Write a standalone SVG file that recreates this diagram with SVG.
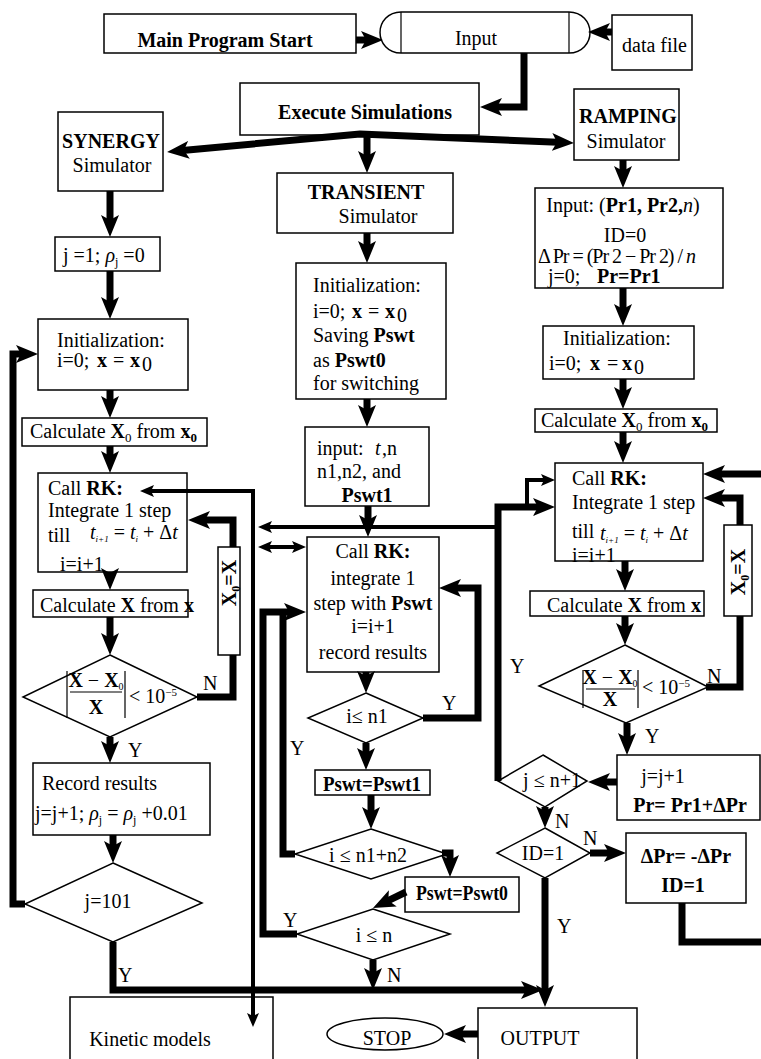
<svg xmlns="http://www.w3.org/2000/svg" width="761" height="1059" viewBox="0 0 761 1059">
<defs>
<style>
text{font-family:"Liberation Serif","Times New Roman",serif;font-size:20px;fill:#000}
.bd{font-weight:bold}
.it{font-style:italic}
.c{text-anchor:middle}
.b{fill:#fff;stroke:#000;stroke-width:1.5}
.k{fill:none;stroke:#000;stroke-width:7;stroke-linejoin:miter}
.m{fill:none;stroke:#000;stroke-width:4}
.f{stroke:#000;stroke-width:1.2;fill:none}
</style>
<marker id="a" viewBox="0 0 22 18" refX="12" refY="9" markerWidth="22" markerHeight="18" markerUnits="userSpaceOnUse" orient="auto-start-reverse"><path d="M0,0 L22,9 L0,18 L5,9 Z"/></marker>
<marker id="s" viewBox="0 0 14 12" refX="7" refY="6" markerWidth="14" markerHeight="12" markerUnits="userSpaceOnUse" orient="auto-start-reverse"><path d="M0,0 L14,6 L0,12 L3,6 Z"/></marker>
</defs>
<rect width="761" height="1059" fill="#fff"/>

<g id="main-start"><rect class="b" x="104" y="14" width="252" height="39"/><text class="c bd" x="225" y="47">Main Program Start</text></g>
<g id="input"><path class="b" d="M401,12 H569 C582,12 590,22 590,32.5 C590,43 582,53 569,53 H401 C388,53 380,43 380,32.5 C380,22 388,12 401,12 Z"/><path class="f" stroke-width="1.5" d="M401,12 V53 M569,12 V53"/><text class="c" x="476" y="45">Input</text></g>
<g id="data-file"><rect class="b" x="612" y="15" width="80" height="55"/><text x="622" y="52">data file</text></g>
<g id="execute"><rect class="b" x="240" y="83" width="239" height="52"/><text class="c bd" x="365" y="119">Execute Simulations</text></g>
<g id="synergy"><rect class="b" x="58" y="112" width="105" height="79"/><text class="c bd" x="111" y="148">SYNERGY</text><text class="c" x="112" y="172">Simulator</text></g>
<g id="transient"><rect class="b" x="277" y="173" width="176" height="60"/><text class="c bd" x="366" y="199">TRANSIENT</text><text class="c" x="378" y="223">Simulator</text></g>
<g id="ramping"><rect class="b" x="574" y="89" width="105" height="71"/><text class="c bd" x="628" y="123">RAMPING</text><text class="c" x="626" y="148">Simulator</text></g>

<!-- SYNERGY column -->
<g id="syn-j"><rect class="b" x="55" y="237" width="105" height="34"/><text x="63" y="262">j =1; <tspan class="it">ρ</tspan><tspan font-size="12" dy="4">j</tspan><tspan dy="-4"> =0</tspan></text></g>
<g id="syn-init"><rect class="b" x="38" y="319" width="150" height="71"/><text x="57" y="347">Initialization:</text><text x="57" y="367">i=0;</text><text class="bd" x="97" y="367">x</text><text x="113" y="367">=</text><text class="bd" x="130" y="367">x</text><text x="142" y="371" font-size="11">0</text></g>
<g id="syn-calc0"><rect class="b" x="22" y="418" width="185" height="28"/><text x="30" y="438">Calculate <tspan class="bd">X</tspan><tspan font-size="13" dy="4">0</tspan><tspan dy="-4"> from </tspan><tspan class="bd">x</tspan><tspan class="bd" font-size="13" dy="4">0</tspan></text></g>
<g id="syn-rk"><rect class="b" x="38" y="473" width="149" height="99"/><text x="48" y="495">Call <tspan class="bd">RK:</tspan></text><text x="48" y="517">Integrate 1 step</text><text x="48" y="542">till</text><text class="it" x="90" y="539" font-size="14">t<tspan font-size="9" dy="3">i+1</tspan><tspan dy="-3" font-style="normal"> = </tspan>t<tspan font-size="9" dy="3">i</tspan><tspan dy="-3" font-style="normal"> + Δ</tspan>t</text><text x="60" y="571">i=i+1</text></g>
<g id="syn-x0x"><rect class="b" x="218" y="547" width="22" height="108"/><text class="bd c" font-size="19" transform="translate(236,583) rotate(-90)">X<tspan font-size="12" dy="4">0</tspan><tspan dy="-4">=X</tspan></text></g>
<g id="syn-calc"><rect class="b" x="33" y="590" width="155" height="27"/><text x="40" y="612" font-size="18.5">Calculate <tspan class="bd">X</tspan> from <tspan class="bd">x</tspan></text></g>
<g id="syn-conv"><polygon class="b" points="110,655 197,697 110,737 23,697"/><path class="f" d="M67,671 V718 M125,671 V718 M70,692 H122"/><text class="c" x="96" y="687" font-size="17"><tspan class="bd">X</tspan> − <tspan class="bd">X</tspan><tspan font-size="10" dy="3">0</tspan></text><text class="c bd" x="96" y="714" font-size="17">X</text><text x="129" y="703" font-size="17">&lt; 10<tspan font-size="11" dy="-7">−5</tspan></text></g>
<g id="syn-record"><rect class="b" x="33" y="763" width="177" height="72"/><text x="42" y="790">Record results</text><text x="35" y="820">j=j+1; <tspan class="it">ρ</tspan><tspan font-size="12" dy="4">j</tspan><tspan dy="-4"> = </tspan><tspan class="it">ρ</tspan><tspan font-size="12" dy="4">j</tspan><tspan dy="-4"> +0.01</tspan></text></g>
<g id="syn-j101"><polygon class="b" points="113,863 202,903 113,942 25,904"/><text class="c" x="108" y="908">j=101</text></g>
<g id="kinetic"><rect class="b" x="70" y="997" width="203" height="80"/><text class="c" x="150" y="1046">Kinetic models</text></g>

<!-- TRANSIENT column -->
<g id="tr-init"><rect class="b" x="296" y="263" width="150" height="136"/><text x="313" y="292">Initialization:</text><text x="313" y="318">i=0;</text><text class="bd" x="352" y="318">x</text><text x="368" y="318">=</text><text class="bd" x="385" y="318">x</text><text x="397" y="322" font-size="11">0</text><text x="313" y="342">Saving <tspan class="bd">Pswt</tspan></text><text x="313" y="367">as <tspan class="bd">Pswt0</tspan></text><text x="313" y="390">for switching</text></g>
<g id="tr-input"><rect class="b" x="305" y="427" width="124" height="79"/><text x="317" y="455">input:<tspan x="375" class="it">t</tspan><tspan x="382">,n</tspan></text><text x="317" y="478">n1,n2, and</text><text class="c bd" x="367" y="502">Pswt1</text></g>
<g id="tr-rk"><rect class="b" x="307" y="537" width="132" height="135"/><text class="c" x="373" y="558">Call <tspan class="bd">RK:</tspan></text><text class="c" x="373" y="585">integrate 1</text><text class="c" x="373" y="610">step with <tspan class="bd">Pswt</tspan></text><text class="c" x="373" y="633">i=i+1</text><text class="c" x="373" y="659">record results</text></g>
<g id="tr-n1"><polygon class="b" points="366,693 423,718 366,743 308,718"/><text class="c" x="367" y="723">i≤ n1</text></g>
<g id="tr-pswt1"><rect class="b" x="315" y="770" width="115" height="25"/><text class="c bd" x="372" y="791" font-size="17" textLength="98" lengthAdjust="spacingAndGlyphs">Pswt=Pswt1</text></g>
<g id="tr-n1n2"><polygon class="b" points="371,829 447,854 371,879 295,854"/><text class="c" x="368" y="862">i ≤ n1+n2</text></g>
<g id="tr-pswt0"><rect class="b" x="405" y="877" width="114" height="35"/><text class="c bd" x="462" y="900" font-size="17" textLength="92" lengthAdjust="spacingAndGlyphs">Pswt=Pswt0</text></g>
<g id="tr-n"><polygon class="b" points="373,909 450,934 373,960 297,934"/><text class="c" x="374" y="942">i ≤ n</text></g>
<g id="stop"><ellipse class="b" cx="385" cy="1034" rx="58" ry="16"/><text class="c" x="387" y="1045">STOP</text></g>
<g id="output"><rect class="b" x="478" y="1008" width="159" height="70"/><text class="c" x="540" y="1045">OUTPUT</text></g>

<!-- RAMPING column -->
<g id="rp-input"><rect class="b" x="535" y="188" width="188" height="100"/><text class="c" x="623" y="212">Input: (<tspan class="bd">Pr1, Pr2,</tspan><tspan class="it">n</tspan>)</text><text class="c" x="625" y="242">ID=0</text><text class="c" x="617" y="263" font-size="15" textLength="158">Δ Pr = (Pr 2 − Pr 2) / <tspan class="it">n</tspan></text><text x="548" y="283">j=0;<tspan class="bd" x="597">Pr=Pr1</tspan></text></g>
<g id="rp-init"><rect class="b" x="543" y="326" width="151" height="53"/><text x="563" y="345">Initialization:</text><text x="549" y="370">i=0;</text><text class="bd" x="590" y="370">x</text><text x="607" y="370">=</text><text class="bd" x="622" y="370">x</text><text x="634" y="374" font-size="11">0</text></g>
<g id="rp-calc0"><rect class="b" x="535" y="409" width="182" height="23"/><text x="541" y="427">Calculate <tspan class="bd">X</tspan><tspan font-size="13" dy="4">0</tspan><tspan dy="-4"> from </tspan><tspan class="bd">x</tspan><tspan class="bd" font-size="13" dy="4">0</tspan></text></g>
<g id="rp-rk"><rect class="b" x="555" y="463" width="148" height="98"/><text x="572" y="485">Call <tspan class="bd">RK:</tspan></text><text x="572" y="509">Integrate 1 step</text><text x="572" y="538">till</text><text class="it" x="600" y="540" font-size="14">t<tspan font-size="9" dy="3">i+1</tspan><tspan dy="-3" font-style="normal"> = </tspan>t<tspan font-size="9" dy="3">i</tspan><tspan dy="-3" font-style="normal"> + Δ</tspan>t</text><text x="572" y="562">i=i+1</text></g>
<g id="rp-x0x"><rect class="b" x="724" y="525" width="28" height="91"/><text class="bd c" font-size="19" transform="translate(745,572) rotate(-90)">X<tspan font-size="12" dy="4">0</tspan><tspan dy="-4">=X</tspan></text></g>
<g id="rp-calc"><rect class="b" x="530" y="591" width="174" height="25"/><text x="547" y="612">Calculate <tspan class="bd">X</tspan> from <tspan class="bd">x</tspan></text></g>
<g id="rp-conv"><polygon class="b" points="625,645 708,687 626,723 539,686"/><path class="f" d="M583,670 V708 M638,670 V708 M586,689 H635"/><text class="c" x="610" y="684" font-size="17"><tspan class="bd">X</tspan> − <tspan class="bd">X</tspan><tspan font-size="10" dy="3">0</tspan></text><text class="c bd" x="610" y="706" font-size="17">X</text><text x="642" y="694" font-size="17">&lt; 10<tspan font-size="11" dy="-7">−5</tspan></text></g>
<g id="rp-jinc"><rect class="b" x="617" y="755" width="143" height="65"/><text class="c" x="663" y="783">j=j+1</text><text class="c bd" x="690" y="812">Pr= Pr1+ΔPr</text></g>
<g id="rp-jn"><polygon class="b" points="543,755 587,781 545,807 498,781"/><text class="c" x="552" y="787">j ≤ n+1</text></g>
<g id="rp-id"><polygon class="b" points="545,828 590,853 545,878 497,853"/><text class="c" x="543" y="860">ID=1</text></g>
<g id="rp-neg"><rect class="b" x="626" y="833" width="120" height="70"/><text class="c bd" x="686" y="863">ΔPr= -ΔPr</text><text class="c bd" x="683" y="892">ID=1</text></g>

<g id="connectors">
<path class="k" d="M356,40 L373,40" marker-end="url(#a)"/>
<path class="k" d="M612,32 L598,32" marker-end="url(#a)"/>
<path class="k" d="M524,53 L524,107 L490,107" marker-end="url(#a)"/>
<path class="k" d="M177,151 L360,134 L564,142.5" marker-start="url(#a)" marker-end="url(#a)"/>
<path class="k" d="M367,135 L367,163" marker-end="url(#a)"/>
<path class="k" d="M110,191 L110,227" marker-end="url(#a)"/>
<path class="k" d="M110,271 L110,309" marker-end="url(#a)"/>
<path class="k" d="M110,390 L110,408" marker-end="url(#a)"/>
<path class="k" d="M110,446 L110,463" marker-end="url(#a)"/>
<path class="k" d="M110,572 L110,580" marker-end="url(#a)"/>
<path class="k" d="M110,617 L110,645" marker-end="url(#a)"/>
<path class="k" d="M110,737 L110,753" marker-end="url(#a)"/>
<path class="k" d="M113,835 L113,853" marker-end="url(#a)"/>
<path class="k" d="M25,904 L13,904 L13,354 L28,354" marker-end="url(#a)"/>
<path class="k" d="M197,697 L233,697 L233,655"/>
<path class="k" d="M233,547 L233,520 L198,520" marker-end="url(#a)"/>
<path class="k" d="M113,942 L113,990 L533,990" marker-end="url(#a)"/>
<path class="m" d="M253,1020 L253,491 L147,491" marker-start="url(#s)" marker-end="url(#s)"/>
<path class="m" d="M498,527 L265,527" marker-end="url(#s)"/>
<path class="m" stroke-width="3" d="M265,547 L299,547" marker-start="url(#s)" marker-end="url(#s)"/>
<path class="k" d="M367,233 L367,253" marker-end="url(#a)"/>
<path class="k" d="M367,399 L367,417" marker-end="url(#a)"/>
<path class="k" d="M368,506 L368,527" marker-end="url(#a)"/>
<path class="k" d="M366,672 L366,683" marker-end="url(#a)"/>
<path class="k" d="M423,718 L478,718 L478,588 L449,588" marker-end="url(#a)"/>
<path class="k" d="M366,743 L366,760" marker-end="url(#a)"/>
<path class="k" d="M371,795 L371,819" marker-end="url(#a)"/>
<path class="k" d="M442,853 L450,853 L450,867" marker-end="url(#a)"/>
<path class="k" d="M406,892 L382,903.6" marker-end="url(#a)"/>
<path class="k" d="M297,934 L263,934 L263,612 L296,612" marker-end="url(#a)"/>
<path class="k" d="M295,854 L283,854 L283,612"/>
<path class="k" d="M373,960 L373,980" marker-end="url(#a)"/>
<path class="k" d="M623,160 L623,178" marker-end="url(#a)"/>
<path class="k" d="M623,288 L623,316" marker-end="url(#a)"/>
<path class="k" d="M623,379 L623,399" marker-end="url(#a)"/>
<path class="k" d="M623,432 L623,453" marker-end="url(#a)"/>
<path class="k" d="M625,561 L625,581" marker-end="url(#a)"/>
<path class="k" d="M625,616 L625,635" marker-end="url(#a)"/>
<path class="k" d="M706,687 L740,687 L740,616"/>
<path class="k" d="M740,525 L740,498 L713,498" marker-end="url(#a)"/>
<path class="k" d="M627,723 L627,745" marker-end="url(#a)"/>
<path class="k" d="M617,782 L598,782" marker-end="url(#a)"/>
<path class="k" d="M498,781 L498,507 L545,507" marker-end="url(#a)"/>
<path class="m" d="M527,507 L527,480 L548,480" marker-end="url(#s)"/>
<path class="k" d="M545,807 L545,818" marker-end="url(#a)"/>
<path class="k" d="M590,853 L616,853" marker-end="url(#a)"/>
<path class="k" d="M682,903 L682,942 L761,942"/>
<path class="k" d="M761,474 L713,474" marker-end="url(#a)"/>
<path class="k" d="M545,878 L545,997" marker-end="url(#a)"/>
<path class="k" d="M478,1034 L454,1034" marker-end="url(#a)"/>
</g>

<g id="labels">
<text x="203" y="690">N</text>
<text x="128" y="757">Y</text>
<text x="118" y="982">Y</text>
<text x="442" y="710">Y</text>
<text x="290" y="755">Y</text>
<text x="283" y="927">Y</text>
<text x="387" y="982">N</text>
<text x="510" y="673">Y</text>
<text x="707" y="683">N</text>
<text x="645" y="743">Y</text>
<text x="555" y="828">N</text>
<text x="583" y="845">N</text>
<text x="557" y="933">Y</text>
</g>
</svg>
